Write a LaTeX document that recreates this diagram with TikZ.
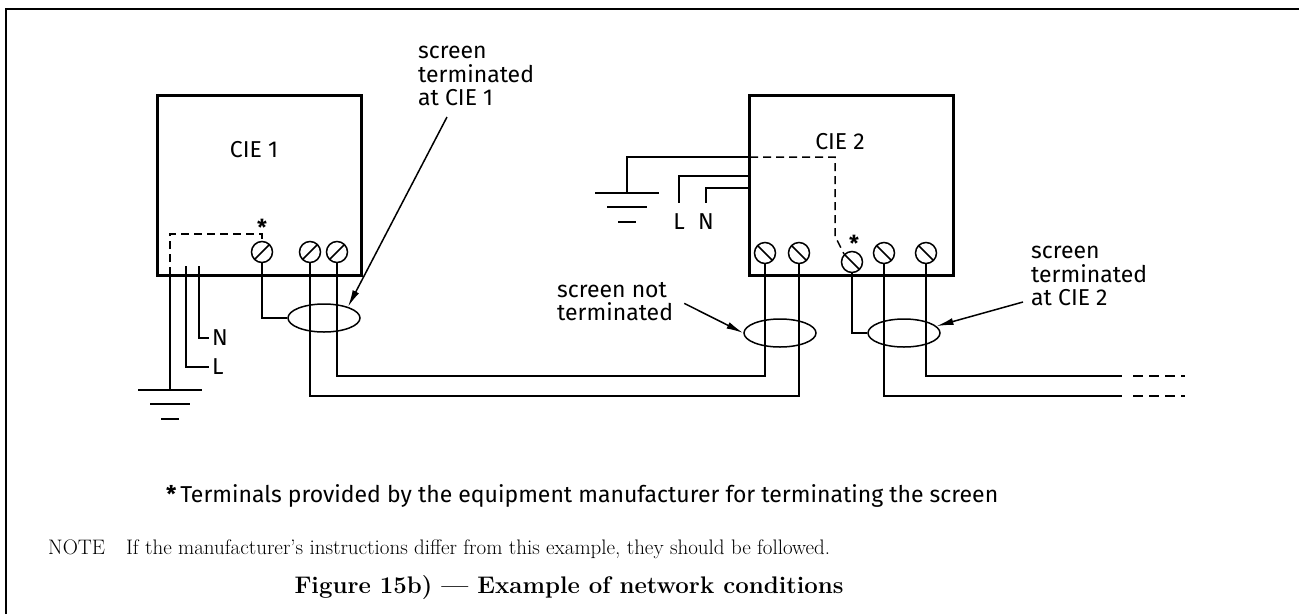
\documentclass[tikz,border=0pt]{standalone}
\usepackage{fontspec}
\setsansfont{Fira Sans}
\usetikzlibrary{arrows.meta,shapes.geometric,positioning}
\tikzset{
  unit/.style={draw, line width=3pt, minimum width=204pt, minimum height=180pt, inner sep=0pt},
  wire/.style={line width=1.5pt},
  screen/.style={line width=1.5pt, dash pattern=on 8pt off 5pt},
  trail/.style={line width=1.5pt, dash pattern=on 10pt off 6pt},
  term/.style={draw, circle, line width=1.5pt, minimum size=21pt, inner sep=0pt},
  termA/.style={term, path picture={\draw[wire] (path picture bounding box.south west) -- (path picture bounding box.north east);}},
  termB/.style={term, path picture={\draw[wire] (path picture bounding box.north west) -- (path picture bounding box.south east);}},
  sheath/.style={draw, ellipse, line width=1.5pt, minimum width=72pt, minimum height=28pt, inner sep=0pt},
  pointer/.style={line width=1.5pt, -{Latex[length=17pt,width=7pt]}},
  lbl/.style={font=\sffamily\fontsize{23}{23.5}\selectfont, inner sep=0pt},
  star/.style={font=\sffamily\bfseries\fontsize{22}{22}\selectfont, inner sep=0pt, anchor=base},
  serif/.style={font=\fontsize{21}{24}\selectfont, inner sep=0pt},
  earth/.pic={\draw[wire] (-32,0) -- (32,0) (-20,14) -- (20,14) (-9,29) -- (9,29);}
}
\begin{document}
\begin{tikzpicture}[x=1pt,y=-1pt]
\useasboundingbox (0,0) rectangle (1299,614);
\draw[line width=2pt] (6,614) -- (6,9) -- (1299,9);

% the two units
\node[unit] (cie1) at (259,185) {};
\node[unit] (cie2) at (851.5,185) {};
\node[lbl] (cie1name) at (254,150) {CIE 1};
\node[lbl] (cie2name) at (840,142) {CIE 2};

% terminals
\node[termA] (s1) at (262,252) {};
\node[termA] (p1) at (310,252) {};
\node[termA] (q1) at (337,252) {};
\node[termB] (p2) at (765,253) {};
\node[termB] (q2) at (799,253) {};
\node[termB] (s2) at (852,262) {};
\node[termB] (p3) at (884,253) {};
\node[termB] (q3) at (926,253) {};
\node[star] (st1) at (262,235) {*};
\node[star] (st2) at (854,251) {*};

% cable screens
\node[sheath] (c1) at (324,318) {};
\node[sheath] (c2) at (780,333) {};
\node[sheath] (c3) at (904,333) {};

% bus
\coordinate (busA) at (0,376);
\coordinate (busB) at (0,396);
\coordinate (endA) at (1122,376);
\coordinate (endB) at (1122,396);
\coordinate (tipA) at (1185,376);
\coordinate (tipB) at (1185,396);
\draw[wire] (q1.south) |- (p2.south |- busA) -- (p2.south);
\draw[wire] (p1.south) |- (q2.south |- busB) -- (q2.south);
\draw[wire] (q3.south) |- (endA);
\draw[wire] (p3.south) |- (endB);
\draw[trail] ([xshift=11pt]endA) -- (tipA);
\draw[trail] ([xshift=11pt]endB) -- (tipB);
\draw[wire] (s1.south) |- (c1.west);
\draw[wire] (s2.south) |- (c3.west);

% mains and earth at CIE 1
\coordinate (e1) at (170,275);
\coordinate (k1) at (170,234);
\coordinate (g1) at (170,390);
\coordinate (l1) at (186,266);
\coordinate (n1) at (199,266);
\draw[screen] (e1) -- (k1) -| (s1.north);
\draw[wire] (e1) -- (g1);
\pic at (g1) {earth};
\node[lbl, inner sep=3pt, anchor=west] (L1) at (209,367) {L};
\node[lbl, inner sep=3pt, anchor=west] (N1) at (209,338) {N};
\draw[wire] (l1) |- (L1.west);
\draw[wire] (n1) |- (N1.west);

% mains and earth at CIE 2
\coordinate (e2) at (750,157);
\coordinate (k2) at (835,236);
\coordinate (g2) at (627,193);
\coordinate (l2) at (750,176);
\coordinate (n2) at (750,188);
\draw[screen] (e2) -| (k2) -- (s2.north west);
\draw[wire] (e2) -| (g2);
\pic at (g2) {earth};
\node[lbl, anchor=north] (L2) at (679,213) {L};
\node[lbl, anchor=north] (N2) at (706,213) {N};
\draw[wire] (l2) -| ([yshift=10pt]L2.north);
\draw[wire] (n2) -| ([yshift=10pt]N2.north);

% notes
\node[lbl, align=left, anchor=south west] (note1) at (418,106) {screen\\terminated\\at CIE 1};
\node[lbl, align=left, anchor=south west] (note2) at (557,321) {screen not\\terminated};
\node[lbl, align=left, anchor=south west] (note3) at (1031,306) {screen\\terminated\\at CIE 2};
\draw[pointer] ([xshift=29pt,yshift=-11pt]note1.south west) -- (c1.25);
\draw[pointer] ([xshift=11pt,yshift=-2pt]note2.east) -- (c2.west);
\draw[pointer] ([xshift=-8pt,yshift=4pt]note3.south west) -- (c3.12);

\node[lbl, anchor=base west] (foot) at (166,502) {\textbf{*}\,Terminals provided by the equipment manufacturer for terminating the screen};
\node[serif, anchor=base west] (nb) at (48,554) {NOTE\quad If the manufacturer's instructions differ from this example, they should be followed.};
\node[serif, font=\fontsize{24}{28}\selectfont\bfseries, anchor=base] (caption) at (569,593) {Figure 15b) --- Example of network conditions};
\end{tikzpicture}
\end{document}
